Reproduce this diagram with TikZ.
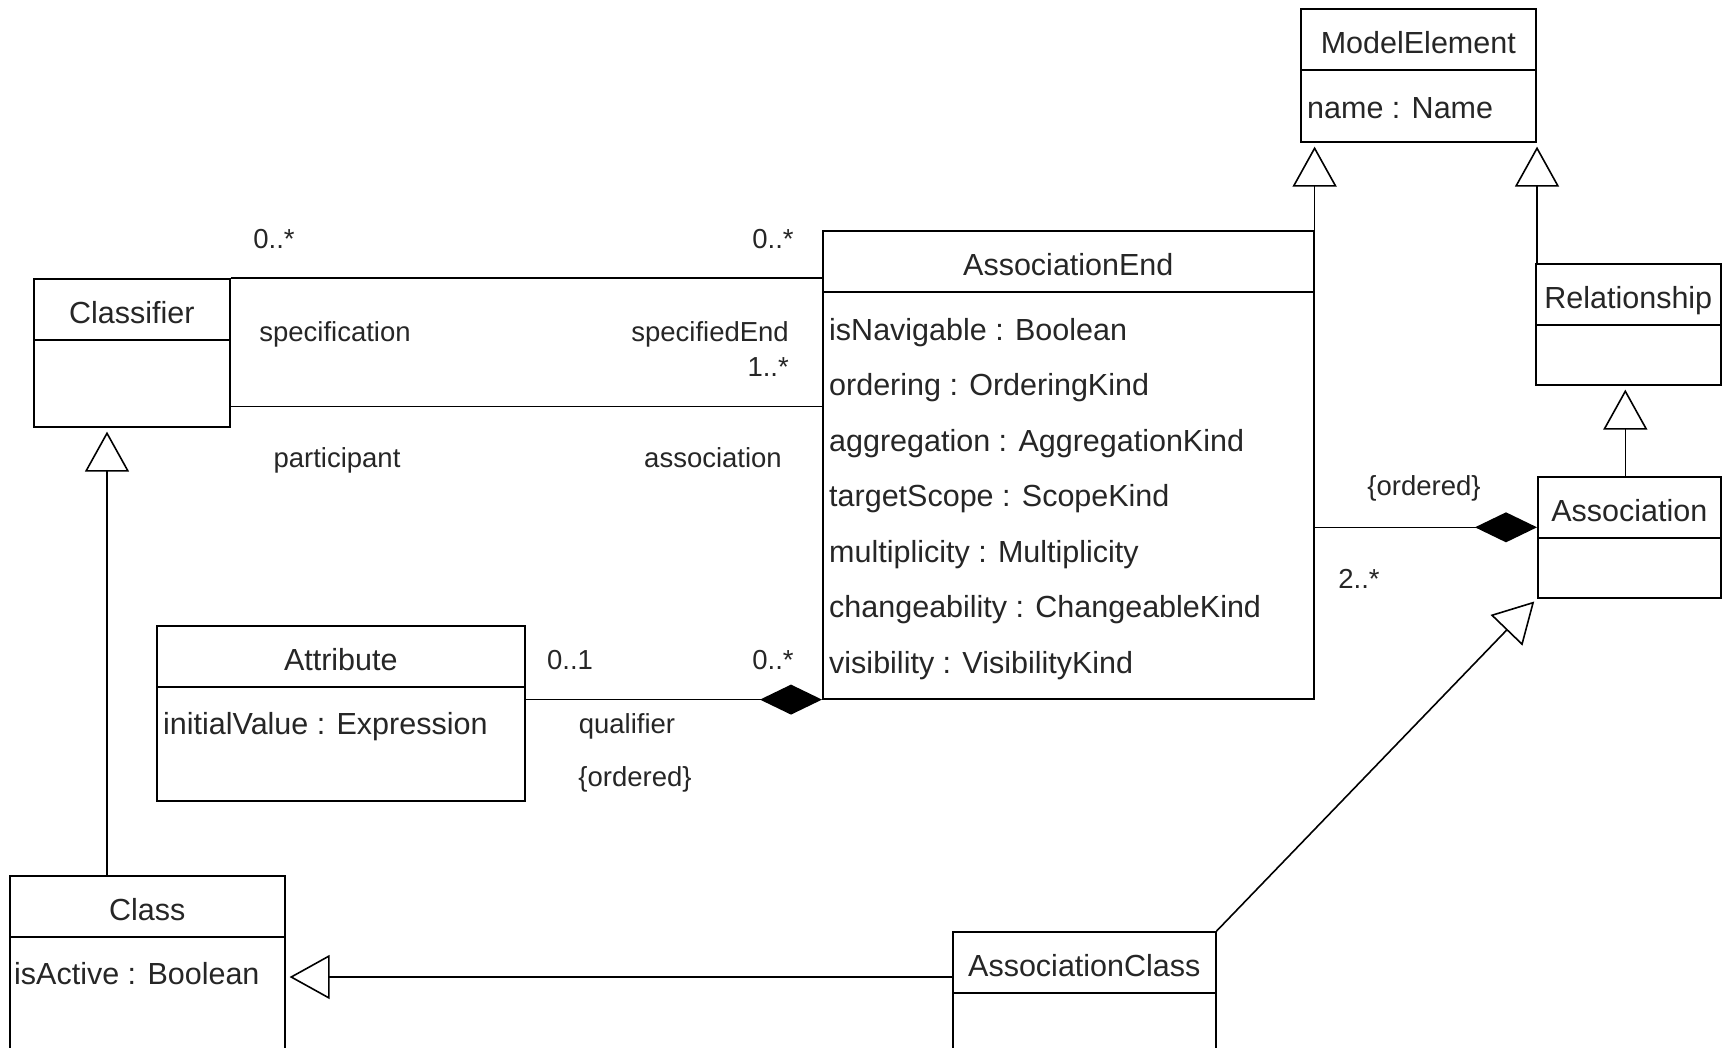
\documentclass[tikz,border=0pt]{standalone}
\usepackage{fontspec}
\setmainfont{Liberation Sans}
\usetikzlibrary{positioning, arrows.meta}

\begin{document}
\begin{tikzpicture}[
    x=1pt, y=-1pt,
    % gaya kotak kelas UML
    class_box/.style={
        draw,
        rectangle,
        anchor=north west,
        line width=1.6pt,
        inner sep=0pt
    },
    % gaya teks nama kelas dan atribut
    class_title/.style={
        font=\fontsize{30.5}{36}\selectfont,
        text=black!85,
        inner sep=0pt,
        text height=22pt,
        text depth=6pt
    },
    class_attr/.style={class_title, anchor=west},
    % gaya label peran dan multiplisitas
    role_label/.style={
        font=\fontsize{27.5}{33}\selectfont,
        text=black!85,
        inner sep=0pt,
        text height=20pt,
        text depth=6pt
    },
    % gaya garis
    line/.style={line width=1.6pt, draw=black},
    generalization/.style={
        line,
        -{Triangle[open, length=40pt, width=44pt]},
        shorten >=4pt
    },
    composition/.style={
        line,
        -{Diamond[length=62pt, width=30pt]}
    }
]

\useasboundingbox (0,0) rectangle (1723,1047);
\clip (0,0) rectangle (1723,1047);
\fill [white] (0,0) rectangle (1723,1047);

% =====================================================================
% KOTAK KELAS
% =====================================================================
\node (me)   [class_box, minimum width=235pt, minimum height=133pt] at (1300,8) {};
\node (rel)  [class_box, minimum width=185pt, minimum height=121pt] at (1535,263) {};
\node (asc)  [class_box, minimum width=183pt, minimum height=121pt] at (1537,476) {};
\node (ae)   [class_box, minimum width=491pt, minimum height=468pt] at (822,230) {};
\node (clf)  [class_box, minimum width=196pt, minimum height=148pt] at (33,278) {};
\node (attr) [class_box, minimum width=368pt, minimum height=175pt] at (156,625) {};
\node (cls)  [class_box, minimum width=275pt, minimum height=240pt] at (9,875) {};
\node (acl)  [class_box, minimum width=263pt, minimum height=200pt] at (952,931) {};

% garis pemisah dan nama kelas
\foreach \c/\t in {me/ModelElement, rel/Relationship, asc/Association,
    ae/AssociationEnd, clf/Classifier, attr/Attribute, cls/Class,
    acl/AssociationClass} {
    \draw [line] ([yshift=-62pt]\c.north west) -- ([yshift=-62pt]\c.north east);
    \node (\c-title) [class_title] at ([yshift=-37pt]\c.north) {\t};
}

% =====================================================================
% ATRIBUT
% =====================================================================
\node (me-a1) [class_attr] at ([xshift=7pt, yshift=-102pt]me.north west) {name : Name};
\foreach \t [count=\i] in {isNavigable : Boolean, ordering : OrderingKind,
    aggregation : AggregationKind, targetScope : ScopeKind,
    multiplicity : Multiplicity, changeability : ChangeableKind,
    visibility : VisibilityKind}
    \node (ae-a\i) [class_attr] at ([xshift=7pt, yshift={-46.5pt-55.5pt*\i}]ae.north west) {\t};
\node (attr-a1) [class_attr] at ([xshift=7pt, yshift=-101pt]attr.north west) {initialValue : Expression};
\node (cls-a1) [class_attr] at ([xshift=5pt, yshift=-101pt]cls.north west) {isActive : Boolean};

% =====================================================================
% KONEKSI
% =====================================================================
\draw [generalization] (ae.north east) -- (ae.north east |- me.south);
\draw [generalization] ([xshift=2pt]rel.north west) -- ([xshift=2pt]rel.north west |- me.south);
\draw [generalization] ([xshift=-4pt]asc.north) -- ([xshift=-4pt]asc.north |- rel.south);
\draw [generalization] ([xshift=98pt]cls.north west) -- ([xshift=98pt]cls.north west |- clf.south);
\draw [generalization] ([yshift=-46pt]acl.north west) -- ([yshift=-46pt]acl.north west -| cls.east);
\draw [generalization] (acl.north east) -- (asc.south west);

\draw [composition] ([yshift=10pt]asc.west -| ae.east) -- ([yshift=10pt]asc.west);
\draw [composition] (ae.south west -| attr.east) -- (ae.south west);

\draw [line] (clf.north east) -- (clf.north east -| ae.west);
\draw [line] ([yshift=21pt]clf.south east) -- ([yshift=21pt]clf.south east -| ae.west);

% =====================================================================
% LABEL PERAN DAN MULTIPLISITAS
% =====================================================================
\node (m1) [role_label] at (274,241) {0..*};
\node (m2) [role_label] at (773,241) {0..*};
\node (r1) [role_label] at (335,334) {specification};
\node (r2) [role_label, anchor=east] at (789,334) {specifiedEnd};
\node (m3) [role_label, anchor=east] at (789,369) {1..*};
\node (r3) [role_label] at (337,460) {participant};
\node (r4) [role_label] at (713,460) {association};
\node (m4) [role_label] at (570,662) {0..1};
\node (m5) [role_label] at (773,662) {0..*};
\node (r5) [role_label] at (627,726) {qualifier};
\node (r6) [role_label] at (635,779) {\{ordered\}};
\node (r7) [role_label] at (1424,488) {\{ordered\}};
\node (m6) [role_label] at (1359,581) {2..*};

\end{tikzpicture}
\end{document}
